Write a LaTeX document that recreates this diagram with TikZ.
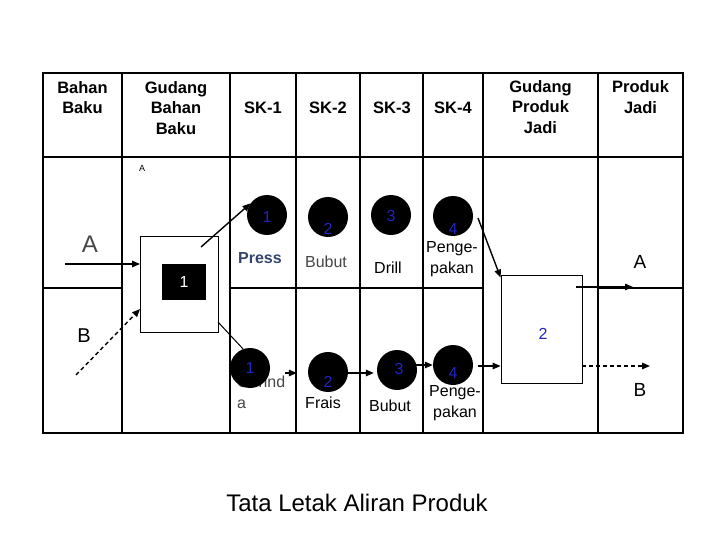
\documentclass[tikz,border=0pt]{standalone}
\usepackage{fontspec}
\setmainfont{Liberation Sans}
\usetikzlibrary{arrows.meta,calc}
\definecolor{numblue}{RGB}{35,35,190}
\definecolor{pressblue}{RGB}{50,70,110}
\definecolor{softgray}{RGB}{70,70,70}
\begin{document}
\begin{tikzpicture}[x=1bp,y=-1bp,
 grid/.style={line width=2.4bp},
 hdr/.style={font=\fontsize{16.5bp}{20.5bp}\selectfont\bfseries, align=center, inner sep=0},
 lbl/.style={font=\fontsize{16bp}{21bp}\selectfont, align=center, inner sep=0},
 mach/.style={circle, fill=black, minimum size=40bp, inner sep=0},
 num/.style={font=\fontsize{16bp}{18bp}\selectfont, text=numblue, inner sep=0},
 box/.style={draw, line width=0.8bp, fill=white, inner sep=0},
 arr/.style={line width=1.4bp, -{Triangle[length=8bp,width=6.5bp]}},
 darr/.style={arr, dash pattern=on 4bp off 3bp},
]
\useasboundingbox (0,0) rectangle (720,540);
\fill[white] (0,0) rectangle (720,540);

% grid
\draw[grid] (43,73) rectangle (683,433);
\draw[grid] (43,157) -- (683,157);
\foreach \x in {122,230,296,360,423,483,598} \draw[grid] (\x,73) -- (\x,433);
\draw[grid] (43,288) -- (122,288) (230,288) -- (483,288) (598,288) -- (683,288);

% headers
\node[hdr] (h1) at (82.5,97.5) {Bahan\\Baku};
\node[hdr] (h2) at (176,108) {Gudang\\Bahan\\Baku};
\node[hdr] (h3) at (263,108) {SK-1};
\node[hdr] (h4) at (328,108) {SK-2};
\node[hdr] (h5) at (392,108) {SK-3};
\node[hdr] (h6) at (453,108) {SK-4};
\node[hdr] (h7) at (540.5,107) {Gudang\\Produk\\Jadi};
\node[hdr] (h8) at (640.5,97) {Produk\\Jadi};

% storage boxes
\node[box, minimum width=78bp, minimum height=96bp] (g1) at (179.5,284) {};
\node[fill=black, minimum width=44bp, minimum height=35bp, inner sep=0, text=white,
      font=\fontsize{16bp}{18bp}\selectfont] (g1n) at (184,282) {1};
\node[box, minimum width=81bp, minimum height=108bp] (g2) at (541.5,329) {};
\node[num] (g2n) at (543,334) {2};

% labels
\node[font=\fontsize{9bp}{10bp}\selectfont, inner sep=0] (smallA) at (142,168) {A};
\node[font=\fontsize{24bp}{26bp}\selectfont, text=softgray, inner sep=0] (la) at (90,244) {A};
\node[font=\fontsize{20bp}{22bp}\selectfont, inner sep=0] (lb) at (84,336) {B};
\node[font=\fontsize{19bp}{22bp}\selectfont, inner sep=0] (ra) at (640,262) {A};
\node[font=\fontsize{19bp}{22bp}\selectfont, inner sep=0] (rb) at (640,390) {B};

\node[lbl, text=pressblue, font=\fontsize{16bp}{20bp}\selectfont\bfseries] (press) at (260,258) {Press};
\node[lbl, text=softgray] (bubut1) at (326,262) {Bubut};
\node[lbl] (drill) at (388,268) {Drill};
\node[lbl] (peng1) at (452,259) {Penge-\\pakan};

\node[lbl, text=softgray, align=left, anchor=west] (gerinda) at (237,392) {Gerind\\a};
\node[lbl] (frais) at (323,403) {Frais};
\node[lbl] (bubut2) at (390,406) {Bubut};
\node[lbl] (peng2) at (455,403) {Penge-\\pakan};

% machines top row
\node[mach] (c1) at (267,215) {};
\node[mach] (c2) at (328,217) {};
\node[mach] (c3) at (391,215) {};
\node[mach] (c4) at (453,216) {};
\node[num] (n1) at (267,217) {1};
\node[num] (n2) at (328,229) {2};
\node[num] (n3) at (391,216) {3};
\node[num] (n4) at (453,229) {4};

% machines bottom row
\node[mach] (b1) at (250,368) {};
\node[mach] (b2) at (328,372) {};
\node[mach] (b3) at (397,370) {};
\node[mach] (b4) at (453,365) {};
\node[num] (m1) at (250,368) {1};
\node[num] (m2) at (328,382) {2};
\node[num] (m3) at (399,369) {3};
\node[num] (m4) at (453,373) {4};

% title
\node[font=\fontsize{24bp}{28bp}\selectfont, inner sep=0] (title) at (357,503) {Tata Letak Aliran Produk};

% connectors
\coordinate (ain) at (65,264);
\draw[arr] (ain) -- (ain -| g1.west);
\coordinate (bin) at (76,375);
\draw[darr] (bin) -- ($(g1.west)+(0,25)$);
\coordinate (g1o) at (201,247);
\draw[arr] (g1o) -- (c1.145);
\coordinate (g1o2) at (218,322);
\draw[line width=1bp] (g1o2) -- (b1.110);
\coordinate (c4o) at (478,218);
\draw[arr] (c4o) -- ($(g2.north west)+(0,3)$);
\coordinate (g2o) at (576,287);
\coordinate (aout) at (633,287);
\draw[arr] (g2o) -- (aout);
\coordinate (bout) at (650,366);
\draw[darr] ($(g2.east)+(0,37)$) -- (bout);

\draw[arr] ($(b1.east)+(15,5)$) -- ($(b2.west)+(-11,1)$);
\draw[arr] ($(b2.east)+(0,1)$) -- ($(b3.west)+(-3,3)$);
\draw[arr] ($(b3.east)+(-1,-5)$) -- (b4.west);
\draw[arr] ($(b4.east)+(5,1)$) -- ($(g2.west)+(0,37)$);
\end{tikzpicture}
\end{document}
